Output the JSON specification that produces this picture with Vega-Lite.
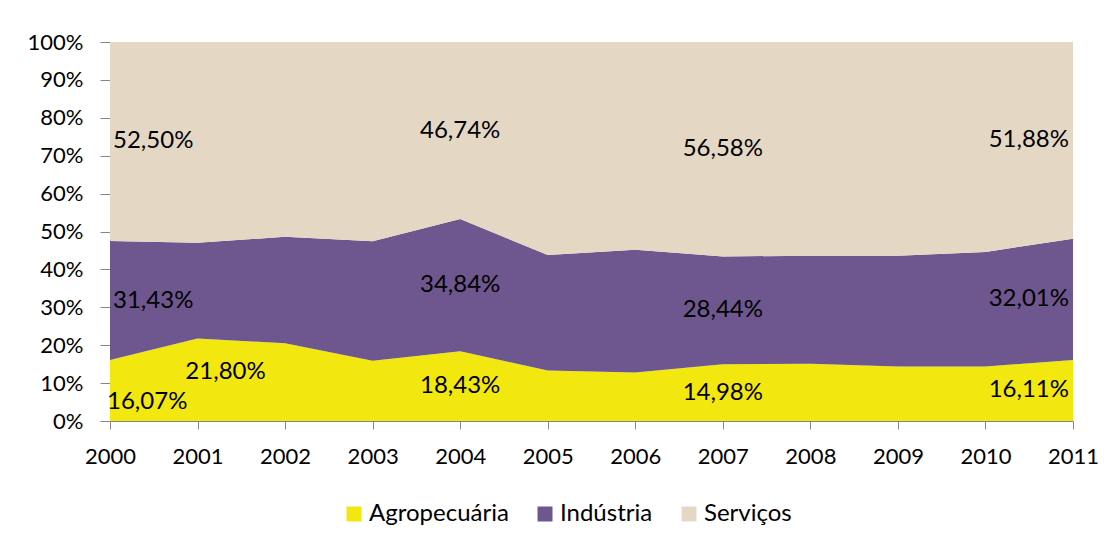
{
  "$schema": "https://vega.github.io/schema/vega-lite/v6.json",
  "width": 963,
  "height": 379,
  "autosize": {"type": "none"},
  "padding": {"left": 110, "top": 42, "right": 41, "bottom": 124},
  "background": "white",
  "config": {
    "view": {"stroke": null},
    "font": "Lato",
    "axisY": {
      "title": null,
      "grid": false,
      "values": [0, 10, 20, 30, 40, 50, 60, 70, 80, 90, 100],
      "labelExpr": "datum.value + '%'",
      "labelFont": "Lato",
      "labelFontSize": 22,
      "labelColor": "#000000",
      "labelPadding": 17,
      "tickSize": 10,
      "tickColor": "#868686",
      "domainColor": "#868686",
      "labelFlush": false,
      "labelOverlap": false
    }
  },
  "data": {
    "values": [
      {"ano": 2000, "setor": "Agropecuária", "valor": 16.07},
      {"ano": 2000, "setor": "Indústria", "valor": 31.43},
      {"ano": 2000, "setor": "Serviços", "valor": 52.50},
      {"ano": 2001, "setor": "Agropecuária", "valor": 21.80},
      {"ano": 2001, "setor": "Indústria", "valor": 25.20},
      {"ano": 2001, "setor": "Serviços", "valor": 53.00},
      {"ano": 2002, "setor": "Agropecuária", "valor": 20.50},
      {"ano": 2002, "setor": "Indústria", "valor": 28.10},
      {"ano": 2002, "setor": "Serviços", "valor": 51.40},
      {"ano": 2003, "setor": "Agropecuária", "valor": 15.90},
      {"ano": 2003, "setor": "Indústria", "valor": 31.50},
      {"ano": 2003, "setor": "Serviços", "valor": 52.60},
      {"ano": 2004, "setor": "Agropecuária", "valor": 18.43},
      {"ano": 2004, "setor": "Indústria", "valor": 34.84},
      {"ano": 2004, "setor": "Serviços", "valor": 46.74},
      {"ano": 2005, "setor": "Agropecuária", "valor": 13.30},
      {"ano": 2005, "setor": "Indústria", "valor": 30.50},
      {"ano": 2005, "setor": "Serviços", "valor": 56.20},
      {"ano": 2006, "setor": "Agropecuária", "valor": 12.80},
      {"ano": 2006, "setor": "Indústria", "valor": 32.40},
      {"ano": 2006, "setor": "Serviços", "valor": 54.80},
      {"ano": 2007, "setor": "Agropecuária", "valor": 14.98},
      {"ano": 2007, "setor": "Indústria", "valor": 28.44},
      {"ano": 2007, "setor": "Serviços", "valor": 56.58},
      {"ano": 2008, "setor": "Agropecuária", "valor": 15.10},
      {"ano": 2008, "setor": "Indústria", "valor": 28.50},
      {"ano": 2008, "setor": "Serviços", "valor": 56.40},
      {"ano": 2009, "setor": "Agropecuária", "valor": 14.40},
      {"ano": 2009, "setor": "Indústria", "valor": 29.20},
      {"ano": 2009, "setor": "Serviços", "valor": 56.40},
      {"ano": 2010, "setor": "Agropecuária", "valor": 14.40},
      {"ano": 2010, "setor": "Indústria", "valor": 30.20},
      {"ano": 2010, "setor": "Serviços", "valor": 55.40},
      {"ano": 2011, "setor": "Agropecuária", "valor": 16.11},
      {"ano": 2011, "setor": "Indústria", "valor": 32.01},
      {"ano": 2011, "setor": "Serviços", "valor": 51.88}
    ]
  },
  "transform": [
    {"stack": "valor", "groupby": ["ano"], "sort": [{"field": "setor", "order": "ascending"}], "as": ["y0", "y1"]},
    {"calculate": "(datum.y0 + datum.y1) / 2", "as": "meio"},
    {"calculate": "replace(format(datum.valor, '.2f'), '.', ',') + '%'", "as": "rotulo"}
  ],
  "encoding": {
    "x": {
      "field": "ano",
      "type": "quantitative",
      "scale": {"domain": [2000, 2011], "nice": false, "zero": false},
      "axis": {
        "title": null,
        "grid": false,
        "values": [2000, 2001, 2002, 2003, 2004, 2005, 2006, 2007, 2008, 2009, 2010, 2011],
        "format": "d",
        "labelFont": "Lato",
        "labelFontSize": 22,
        "labelColor": "#000000",
        "labelPadding": 17,
        "tickSize": 8,
        "tickColor": "#868686",
        "domainColor": "#868686",
        "labelFlush": false,
        "labelOverlap": false
      }
    }
  },
  "layer": [
    {
      "mark": {"type": "area", "interpolate": "linear"},
      "encoding": {
        "y": {
          "field": "y1",
          "type": "quantitative",
          "scale": {"domain": [0, 100], "nice": false},
          "title": null
        },
        "y2": {"field": "y0"},
        "color": {
          "field": "setor",
          "type": "nominal",
          "scale": {
            "domain": ["Agropecuária", "Indústria", "Serviços"],
            "range": ["#F2E80F", "#6E578E", "#E4D8C4"]
          },
          "legend": {
            "title": null,
            "orient": "none",
            "legendX": 232,
            "legendY": 460,
            "direction": "horizontal",
            "symbolType": "square",
            "symbolSize": 225,
            "symbolStrokeWidth": 0,
            "labelFont": "Lato",
            "labelFontSize": 24,
            "labelColor": "#000000",
            "labelOffset": 3,
            "columnPadding": 24,
            "labelLimit": 300
          }
        }
      }
    },
    {
      "transform": [{"filter": "datum.ano == 2000 && datum.setor != 'Agropecuária'"}],
      "mark": {"type": "text", "align": "left", "baseline": "middle", "dx": 3, "fontSize": 24, "font": "Lato", "color": "#000000"},
      "encoding": {"y": {"field": "meio", "type": "quantitative", "title": null}, "text": {"field": "rotulo"}}
    },
    {
      "transform": [{"filter": "datum.ano == 2000 && datum.setor == 'Agropecuária'"}],
      "mark": {"type": "text", "align": "left", "baseline": "middle", "dx": -3, "dy": 11, "fontSize": 24, "font": "Lato", "color": "#000000"},
      "encoding": {"y": {"field": "meio", "type": "quantitative", "title": null}, "text": {"field": "rotulo"}}
    },
    {
      "transform": [{"filter": "datum.ano == 2001 && datum.setor == 'Agropecuária'"}],
      "mark": {"type": "text", "align": "center", "baseline": "middle", "dx": 28, "dy": -8, "fontSize": 24, "font": "Lato", "color": "#000000"},
      "encoding": {"y": {"field": "meio", "type": "quantitative", "title": null}, "text": {"field": "rotulo"}}
    },
    {
      "transform": [{"filter": "datum.ano == 2004 || datum.ano == 2007"}],
      "mark": {"type": "text", "align": "center", "baseline": "middle", "fontSize": 24, "font": "Lato", "color": "#000000"},
      "encoding": {"y": {"field": "meio", "type": "quantitative", "title": null}, "text": {"field": "rotulo"}}
    },
    {
      "transform": [{"filter": "datum.ano == 2011"}],
      "mark": {"type": "text", "align": "right", "baseline": "middle", "dx": -4, "fontSize": 24, "font": "Lato", "color": "#000000"},
      "encoding": {"y": {"field": "meio", "type": "quantitative", "title": null}, "text": {"field": "rotulo"}}
    }
  ]
}
